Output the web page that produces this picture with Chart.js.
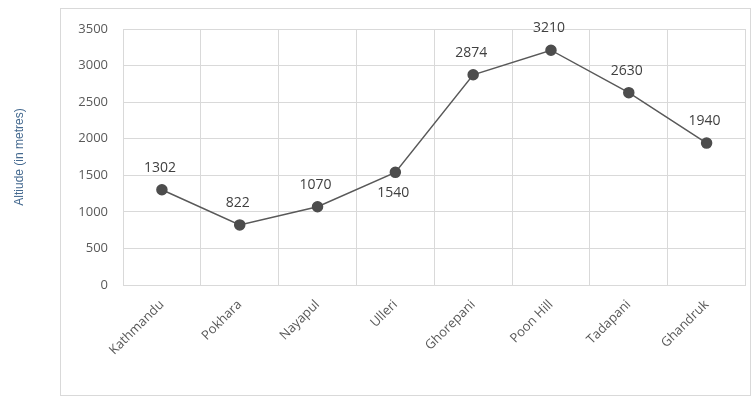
<!DOCTYPE html>
<html>
<head>
<meta charset="utf-8">
<script src="https://cdn.jsdelivr.net/npm/chart.js@4"></script>
<style>
  html, body { margin: 0; padding: 0; background: #fff; }
  #wrap { width: 752px; height: 402px; }
</style>
</head>
<body>
<div id="wrap"><canvas id="altChart" width="752" height="402"></canvas></div>
<script>
const places = ['Kathmandu', 'Pokhara', 'Nayapul', 'Ulleri', 'Ghorepani', 'Poon Hill', 'Tadapani', 'Ghandruk'];
const altitudes = [1302, 822, 1070, 1540, 2874, 3210, 2630, 1940];
// which labels sit under the point instead of above it
const labelBelow = [false, false, false, true, false, false, false, false];
const yTitle = 'Altiude (in metres)';

// frame around the plot, like the spreadsheet chart box
const framePlugin = {
    id: 'frame',
    beforeDraw(chart) {
        const ctx = chart.ctx;
        ctx.save();
        ctx.fillStyle = '#fff';
        ctx.fillRect(0, 0, chart.width, chart.height);
        ctx.strokeStyle = '#d9d9d9';
        ctx.lineWidth = 1;
        ctx.strokeRect(60.5, 8.5, 690, 387);
        ctx.restore();
    }
};

// value labels on each point
const valueLabels = {
    id: 'valueLabels',
    afterDatasetsDraw(chart) {
        const ctx = chart.ctx;
        const meta = chart.getDatasetMeta(0);
        ctx.save();
        ctx.font = '14px "Open Sans", sans-serif';
        ctx.fillStyle = '#404040';
        ctx.textAlign = 'center';
        ctx.textBaseline = 'middle';
        meta.data.forEach((pt, i) => {
            const dy = labelBelow[i] ? 21 : -22;
            ctx.fillText(String(altitudes[i]), pt.x - 2, pt.y + dy);
        });
        ctx.restore();
    }
};

const ctx = document.getElementById('altChart').getContext('2d');
new Chart(ctx, {
    type: 'line',
    data: {
        labels: places,
        datasets: [{
            data: altitudes,
            borderColor: '#595959',
            borderWidth: 1.5,
            backgroundColor: '#4d4d4d',
            pointBackgroundColor: '#4d4d4d',
            pointBorderColor: '#4d4d4d',
            pointRadius: 5,
            tension: 0,
            fill: false
        }]
    },
    options: {
        responsive: false,
        animation: false,
        layout: { padding: { left: 6, right: 5, top: 29, bottom: 0 } },
        plugins: {
            legend: { display: false },
            tooltip: { enabled: false }
        },
        scales: {
            x: {
                offset: true,
                grid: { offset: true, color: '#d9d9d9', drawTicks: false },
                border: { color: '#d9d9d9' },
                ticks: {
                    minRotation: 45, maxRotation: 45,
                    padding: 12,
                    color: '#595959',
                    font: { family: '"Open Sans", sans-serif', size: 13 }
                },
                afterFit(scale) { scale.height = 117; }
            },
            y: {
                min: 0, max: 3500,
                grid: { color: '#d9d9d9', drawTicks: false },
                border: { color: '#d9d9d9' },
                ticks: {
                    stepSize: 500,
                    padding: 15,
                    color: '#595959',
                    font: { family: '"Open Sans", sans-serif', size: 13 },
                    callback: v => String(v)
                },
                title: {
                    display: true,
                    text: yTitle,
                    color: '#44698f',
                    padding: { top: 6, bottom: 0 },
                    font: { family: '"Liberation Sans", Arial, sans-serif', size: 12 }
                },
                afterFit(scale) { scale.width = 117; }
            }
        }
    },
    plugins: [framePlugin, valueLabels]
});
</script>
</body>
</html>
